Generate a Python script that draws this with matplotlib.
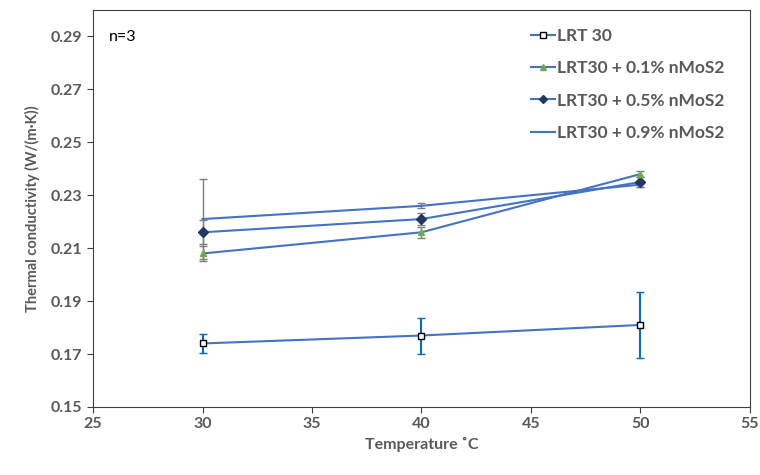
import numpy as np
import matplotlib
matplotlib.use('Agg')
import matplotlib.pyplot as plt

plt.rcParams['font.family'] = ['Lato', 'DejaVu Sans']

# data
temps = [30, 40, 50]

lrt30 = [0.174, 0.177, 0.181]
lrt30_err = [0.0035, 0.0068, 0.0125]

mos01 = [0.208, 0.216, 0.238]
mos01_err = [0.003, 0.002, 0.001]

mos05 = [0.216, 0.221, 0.235]
mos05_err = [0.0045, 0.0022, 0.002]

mos09 = [0.221, 0.226, 0.234]
mos09_err = [0.015, 0.001, 0.001]

labels = ['LRT 30', 'LRT30 + 0.1% nMoS2', 'LRT30 + 0.5% nMoS2', 'LRT30 + 0.9% nMoS2']
xticks = [25, 30, 35, 40, 45, 50, 55]
yticks = [0.15, 0.17, 0.19, 0.21, 0.23, 0.25, 0.27, 0.29]

line_c = '#4472C4'
grey = '#7F7F7F'
txt = '#595959'

fig = plt.figure(figsize=(7.6, 4.75), dpi=100)
ax = fig.add_axes([0.1224, 0.1432, 0.8644, 0.8358])

e0 = ax.errorbar(temps, lrt30, yerr=lrt30_err, color=line_c, ecolor='#0070C0',
                 elinewidth=1.5, capsize=3, capthick=1.5, lw=1.5,
                 marker='s', ms=5, mfc='white', mec='black', mew=1.0)
e3 = ax.errorbar(temps, mos09, yerr=mos09_err, color=line_c, ecolor=grey,
                 elinewidth=1.0, capsize=3, lw=1.5, zorder=2)
e2 = ax.errorbar(temps, mos05, yerr=mos05_err, color=line_c, ecolor=grey,
                 elinewidth=1.0, capsize=3, lw=1.5,
                 marker='D', ms=5, mfc='#1F3864', mec='#1F3864', zorder=3)
e1 = ax.errorbar(temps, mos01, yerr=mos01_err, color=line_c, ecolor=grey,
                 elinewidth=1.0, capsize=3, lw=1.5,
                 marker='^', ms=5, mfc='#70AD47', mec='#70AD47', zorder=4)

ax.set_xlim(25, 55)
ax.set_ylim(0.15, 0.30)
ax.set_xticks(xticks)
ax.set_yticks(yticks)
ax.set_yticklabels(['%.2f' % v for v in yticks])

for s in ax.spines.values():
    s.set_color('#404040')
    s.set_linewidth(0.8)

ax.tick_params(direction='out', length=4, color='#404040', labelcolor=txt, labelsize=11.5)
for t in ax.get_xticklabels() + ax.get_yticklabels():
    t.set_fontweight('bold')

ax.set_xlabel('Temperature ˚C', fontsize=11.5, fontweight='bold', color=txt, labelpad=4)
ax.set_ylabel('Thermal conductivity (W/(m·K))', fontsize=10.5, fontweight='bold', color=txt, labelpad=8)

ax.text(0.024, 0.95, 'n=3', transform=ax.transAxes, fontsize=11.5, va='top', ha='left')

# legend shows only line + marker
handles = [e0[0], e1[0], e2[0], e3[0]]
leg = ax.legend(handles, labels, loc='upper right',
                bbox_to_anchor=(0.985, 0.995), frameon=False, fontsize=12.5,
                labelspacing=0.95, handlelength=1.4, handletextpad=0.1, markerscale=0.9)
for t in leg.get_texts():
    t.set_fontweight('bold')
    t.set_color(txt)

fig.savefig('out.png', dpi=100)
